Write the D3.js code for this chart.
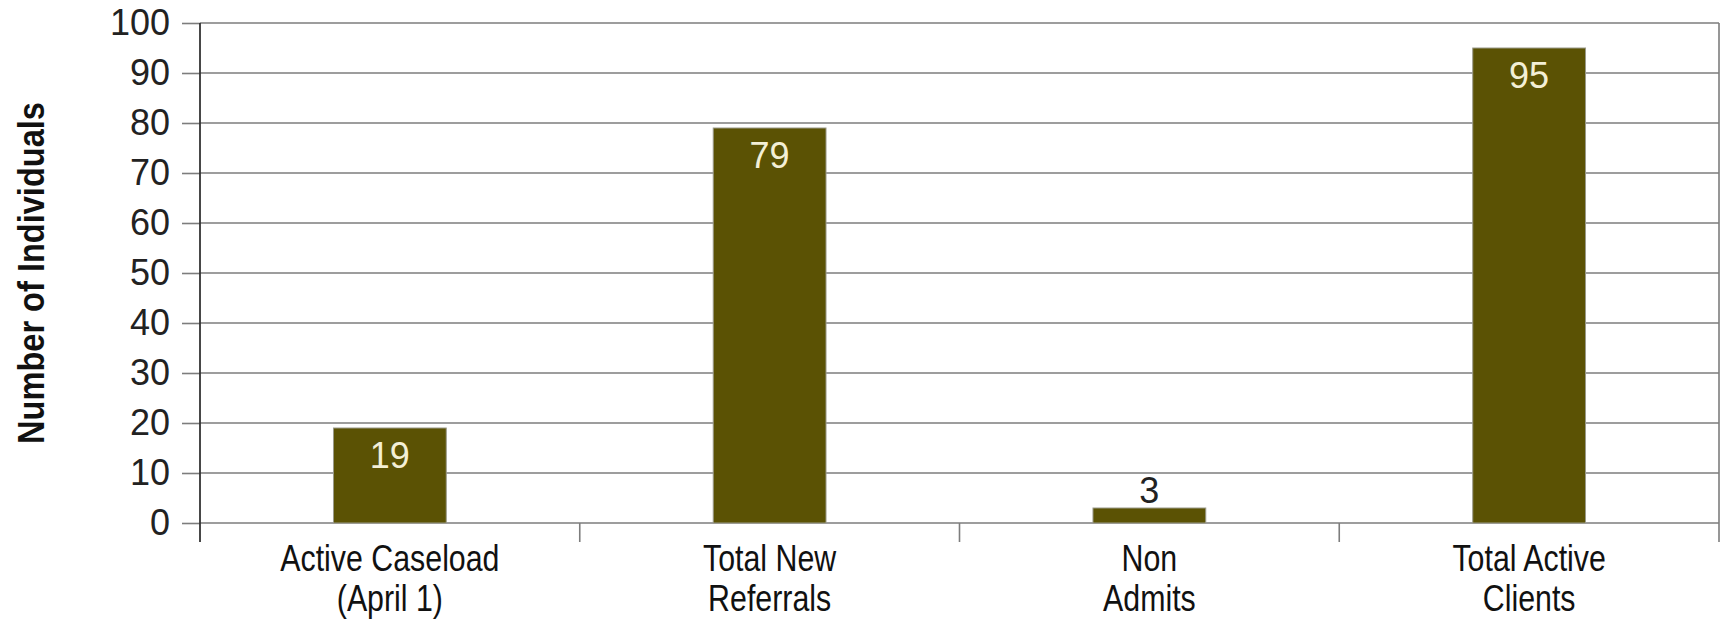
<!DOCTYPE html>
<html>
<head>
<meta charset="utf-8">
<script src="https://cdnjs.cloudflare.com/ajax/libs/d3/7.8.5/d3.min.js"></script>
<style>
  body { margin: 0; background: #fff; }
  svg { display: block; }
  .num { font-family: "Liberation Sans", Arial, sans-serif; }
  .narrow { font-family: "Liberation Sans Narrow", "Arial Narrow", "Liberation Sans", sans-serif; }
</style>
</head>
<body>
<svg id="chart" width="1727" height="619"></svg>
<script>
// Data =============================================================
var categories = ["Active Caseload (April 1)", "Total New Referrals", "Non Admits", "Total Active Clients"];
var catLines = [["Active Caseload", "(April 1)"], ["Total New", "Referrals"], ["Non", "Admits"], ["Total Active", "Clients"]];
var counts = [19, 79, 3, 95];
var yTicks = [0, 10, 20, 30, 40, 50, 60, 70, 80, 90, 100];
var yTitle = "Number of Individuals";

// Layout ===========================================================
var plotLeft = 200, plotRight = 1719, plotTop = 23, plotBottom = 523;
var squeeze = 0.82;   // no narrow font installed, so squash the regular one
var svg = d3.select("#chart");

var x = d3.scaleBand()
    .domain(categories)
    .range([plotLeft, plotRight]);

var y = d3.scaleLinear()
    .domain([0, 100])
    .range([plotBottom, plotTop]);

var barW = x.bandwidth() * 0.297;

// gridlines
svg.append("g")
  .selectAll("line")
  .data(yTicks)
  .enter()
  .append("line")
    .attr("x1", plotLeft)
    .attr("x2", plotRight)
    .attr("y1", function(d) { return y(d); })
    .attr("y2", function(d) { return y(d); })
    .attr("stroke", "#7d7d7d")
    .attr("stroke-width", 1.6);

// right border
svg.append("line")
    .attr("x1", plotRight).attr("x2", plotRight)
    .attr("y1", plotTop).attr("y2", plotBottom)
    .attr("stroke", "#7d7d7d")
    .attr("stroke-width", 1.6);

// y axis
var yAxis = d3.axisLeft(y)
    .tickValues(yTicks)
    .tickSize(18)
    .tickPadding(12)
    .tickFormat(d3.format("d"));

var gy = svg.append("g")
    .attr("transform", "translate(" + plotLeft + ",0)")
    .call(yAxis);
gy.select(".domain").remove();
gy.selectAll(".tick line").attr("stroke", "#7d7d7d").attr("stroke-width", 1.6);
gy.selectAll(".tick text")
    .attr("class", "num")
    .attr("font-size", 36)
    .attr("fill", "#222");

// axis line
svg.append("line")
    .attr("x1", plotLeft).attr("x2", plotLeft)
    .attr("y1", plotTop).attr("y2", plotBottom + 19)
    .attr("stroke", "#333")
    .attr("stroke-width", 1.8);

// x axis ticks at category edges
var edges = categories.map(function(c) { return x(c); }).concat([plotRight]);
svg.append("g")
  .selectAll("line")
  .data(edges.slice(1))
  .enter()
  .append("line")
    .attr("x1", function(d) { return d; })
    .attr("x2", function(d) { return d; })
    .attr("y1", plotBottom)
    .attr("y2", plotBottom + 19)
    .attr("stroke", "#7d7d7d")
    .attr("stroke-width", 1.6);

// bars
svg.append("g")
  .selectAll("rect")
  .data(counts)
  .enter()
  .append("rect")
    .attr("x", function(d, i) { return x(categories[i]) + (x.bandwidth() - barW) / 2; })
    .attr("y", function(d) { return y(d); })
    .attr("width", barW)
    .attr("height", function(d) { return y(0) - y(d); })
    .attr("fill", "#5b5204")
    .attr("stroke", "#9a9a8a")
    .attr("stroke-width", 1);

// value labels
svg.append("g")
  .selectAll("text")
  .data(counts)
  .enter()
  .append("text")
    .attr("class", "num")
    .attr("x", function(d, i) { return x(categories[i]) + x.bandwidth() / 2; })
    .attr("y", function(d) { return (y(0) - y(d)) > 50 ? y(d) + 40 : y(d) - 5; })
    .attr("text-anchor", "middle")
    .attr("font-size", 36)
    .attr("fill", function(d) { return (y(0) - y(d)) > 50 ? "#f3efd6" : "#222"; })
    .text(function(d) { return d; });

// category labels
var labs = svg.append("g")
  .selectAll("text")
  .data(catLines)
  .enter()
  .append("text")
    .attr("class", "narrow")
    .attr("transform", function(d, i) {
        return "translate(" + (x(categories[i]) + x.bandwidth() / 2) + ",0) scale(" + squeeze + ",1)";
    })
    .attr("text-anchor", "middle")
    .attr("font-size", 37)
    .attr("fill", "#111");

labs.each(function(lines) {
    d3.select(this).selectAll("tspan")
      .data(lines)
      .enter()
      .append("tspan")
        .attr("x", 0)
        .attr("y", function(d, j) { return 571 + j * 40; })
        .text(function(d) { return d; });
});

// y title
svg.append("text")
    .attr("class", "narrow")
    .attr("transform", "translate(44,273) rotate(-90) scale(0.88,1)")
    .attr("text-anchor", "middle")
    .attr("font-size", 37)
    .attr("font-weight", "bold")
    .attr("fill", "#111")
    .text(yTitle);
</script>
</body>
</html>
